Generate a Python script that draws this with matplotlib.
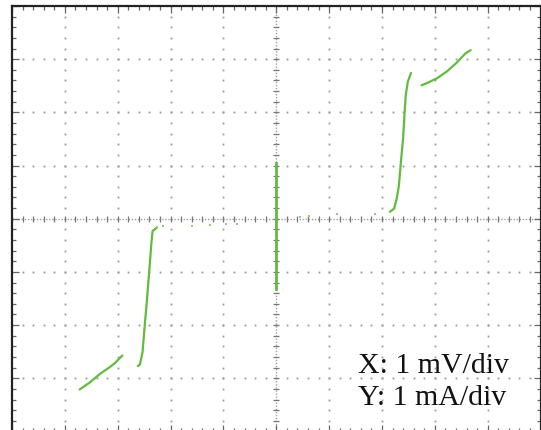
import numpy as np
import matplotlib
matplotlib.use("Agg")
import matplotlib.pyplot as plt
from matplotlib.ticker import MultipleLocator, NullFormatter

# ---- data (x in mV, y in mA; 1 div = 1 unit) ----
center_x = [0.0, 0.0, 0.0]
center_y = [1.04, 0.0, -1.32]

up_steep_x = [2.15, 2.23, 2.28, 2.32, 2.36, 2.40, 2.43, 2.45, 2.49, 2.55]
up_steep_y = [0.13, 0.19, 0.38, 0.62, 1.08, 1.51, 2.02, 2.32, 2.58, 2.74]

up_branch_x = [2.75, 2.85, 3.04, 3.23, 3.42, 3.58, 3.68]
up_branch_y = [2.51, 2.55, 2.64, 2.77, 2.94, 3.11, 3.17]

lo_steep_x = [-2.26, -2.34, -2.36, -2.40, -2.45, -2.49, -2.53, -2.58, -2.62]
lo_steep_y = [-0.17, -0.23, -0.43, -0.94, -1.57, -2.02, -2.51, -2.74, -2.77]

lo_branch_x = [-3.72, -3.53, -3.34, -3.15, -3.06, -2.91]
lo_branch_y = [-3.21, -3.08, -2.92, -2.79, -2.72, -2.57]

noise_x = [-2.25, -2.15, -1.60, -1.25, -0.95, -0.75, 0.44, 0.62, 1.15, 1.87]
noise_y = [-0.15, -0.13, -0.13, -0.11, -0.09, -0.09, 0.04, 0.06, 0.08, 0.09]

x_label = "X: 1 mV/div"
y_label = "Y: 1 mA/div"

# ---- figure ----
W, H = 541, 430
fig = plt.figure(figsize=(W / 100, H / 100), dpi=100)
left_px, right_px, top_px, bottom_px = 12, 540.5, 6, 431.5
ax = fig.add_axes([left_px / W, 1 - bottom_px / H,
                   (right_px - left_px) / W, (bottom_px - top_px) / H])
ax.set_xlim(-5, 5)
ax.set_ylim(-4, 4)

grid_col = "#999999"
# dotted grid: dots every 0.2 div
fine_y = np.arange(-4, 4.001, 0.2)
fine_x = np.arange(-5, 5.001, 0.2)
for k in range(-4, 5):
    if k == 0:
        continue
    ax.plot(np.full_like(fine_y, k), fine_y, ls="none", marker="s", ms=1.3,
            mew=0, color=grid_col, zorder=1)
for k in range(-3, 4):
    if k == 0:
        continue
    ax.plot(fine_x, np.full_like(fine_x, k), ls="none", marker="s", ms=1.3,
            mew=0, color=grid_col, zorder=1)

# central axes: dense dotted line + ticks every 0.2
ax.axhline(0, ls=(0, (1, 1.2)), color="#a0a0a0", lw=1.0, zorder=1)
ax.axvline(0, ls=(0, (1, 1.2)), color="#a0a0a0", lw=1.0, zorder=1)
ax.plot(fine_x, np.zeros_like(fine_x), ls="none", marker="|", ms=5, mew=0.9,
        color="#777777", zorder=1)
ax.plot(np.zeros_like(fine_y), fine_y, ls="none", marker="_", ms=5, mew=0.9,
        color="#777777", zorder=1)

# frame ticks
ax.xaxis.set_major_locator(MultipleLocator(1))
ax.yaxis.set_major_locator(MultipleLocator(1))
ax.xaxis.set_minor_locator(MultipleLocator(0.2))
ax.yaxis.set_minor_locator(MultipleLocator(0.2))
ax.xaxis.set_major_formatter(NullFormatter())
ax.yaxis.set_major_formatter(NullFormatter())
ax.tick_params(which="major", direction="in", length=5, width=0.9,
               color="#666666", top=True, right=True, bottom=True, left=True)
ax.tick_params(which="minor", direction="in", length=3, width=0.9,
               color="#666666", top=True, right=True, bottom=True, left=True)
for s in ax.spines.values():
    s.set_linewidth(1.6)
    s.set_color("#222222")

# trace
green = "#62bb3e"
for xs, ys in [(up_steep_x, up_steep_y), (up_branch_x, up_branch_y),
               (lo_steep_x, lo_steep_y), (lo_branch_x, lo_branch_y)]:
    ax.plot(xs, ys, color=green, lw=1.6, solid_capstyle="round", zorder=3)
ax.plot(center_x, center_y, color=green, lw=2.0, zorder=3)
ax.plot(noise_x, noise_y, ls="none", marker="s", ms=1.8, mew=0,
        color="#8fd070", zorder=3)

fig.text(358 / W, 1 - 373 / H, x_label, family=["Liberation Serif"],
         fontsize=21.5, va="baseline", ha="left", color="#111111")
fig.text(358 / W, 1 - 405 / H, y_label, family=["Liberation Serif"],
         fontsize=21.5, va="baseline", ha="left", color="#111111")

fig.savefig("out.png", dpi=100)
